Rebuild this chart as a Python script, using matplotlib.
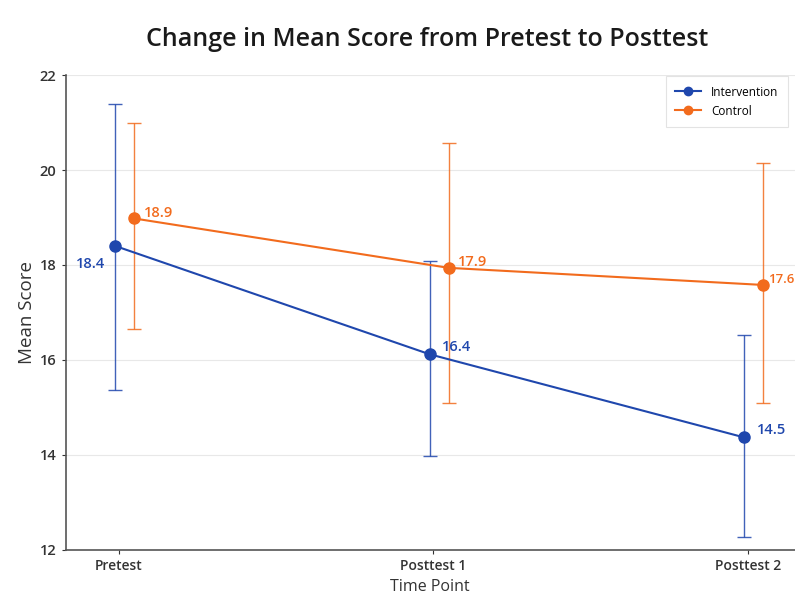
import matplotlib
matplotlib.use("Agg")
import matplotlib.pyplot as plt
import numpy as np

# chart data
time_points = ["Pretest", "Posttest 1", "Posttest 2"]
intervention_mean = [18.40, 16.12, 14.37]
intervention_low = [15.37, 13.98, 12.28]
intervention_high = [21.40, 18.09, 16.53]
intervention_labels = ["18.4", "16.4", "14.5"]
control_mean = [18.98, 17.94, 17.58]
control_low = [16.65, 15.09, 15.10]
control_high = [21.00, 20.57, 20.15]
control_labels = ["18.9", "17.9", "17.6"]

BLUE = "#1f47ad"
ORANGE = "#f26b1d"

plt.rcParams["font.family"] = ["Open Sans", "DejaVu Sans"]

fig = plt.figure(figsize=(7.95, 6.05), dpi=100)
ax = fig.add_axes([0.0825, 0.091, 0.9175, 0.785])

x = np.arange(len(time_points))
xi = x - 0.012
xc = x + 0.048


def draw_series(xs, mean, low, high, color, label):
    mean = np.asarray(mean)
    yerr = [mean - np.asarray(low), np.asarray(high) - mean]
    ax.errorbar(xs, mean, yerr=yerr, fmt="none", ecolor=color, elinewidth=1.0,
                capsize=5, capthick=1.0, alpha=0.85, zorder=2)
    ax.plot(xs, mean, color=color, lw=1.5, marker="o", ms=8, label=label, zorder=3)


draw_series(xi, intervention_mean, intervention_low, intervention_high, BLUE, "Intervention")
draw_series(xc, control_mean, control_low, control_high, ORANGE, "Control")

# value labels
for i, (xv, yv, txt) in enumerate(zip(xi, intervention_mean, intervention_labels)):
    if i == 0:
        ax.annotate(txt, (xv, yv), xytext=(-18, -13), textcoords="offset points",
                    ha="center", va="center", color=BLUE, fontsize=10.5, fontweight="semibold")
    else:
        ax.annotate(txt, (xv, yv), xytext=(9, 5), textcoords="offset points",
                    ha="left", va="center", color=BLUE, fontsize=10.5, fontweight="semibold")
for i, (xv, yv, txt) in enumerate(zip(xc, control_mean, control_labels)):
    last = i == len(control_labels) - 1
    ax.annotate(txt, (xv, yv), xytext=(4 if last else 7, 4), textcoords="offset points",
                ha="left", va="center", color=ORANGE,
                fontsize=9.5 if last else 10.5, fontweight="semibold")

ax.set_xlim(-0.17, 2.15)
ax.set_ylim(12, 22)
ax.set_yticks(np.arange(12, 23, 2))
ax.set_xticks(x)
ax.set_xticklabels(time_points, fontweight="semibold", fontsize=10)
for t in ax.get_yticklabels():
    t.set_fontweight("semibold")
    t.set_fontsize(10.5)
ax.tick_params(colors="#333333", length=3, width=0.8)

ax.grid(axis="y", color="#e8e8e8", lw=0.8)
ax.set_axisbelow(True)
for side in ("top", "right"):
    ax.spines[side].set_visible(False)
for side in ("left", "bottom"):
    ax.spines[side].set_color("#555555")
    ax.spines[side].set_linewidth(1.2)

ax.set_xlabel("Time Point", fontsize=11.5, color="#333333", labelpad=4)
ax.set_ylabel("Mean Score", fontsize=13.5, color="#333333", labelpad=3)
fig.suptitle("Change in Mean Score from Pretest to Posttest", fontsize=18,
             fontweight="semibold", x=0.537, y=0.955, color="#1a1a1a")

leg = ax.legend(loc="upper right", fontsize=8.5, frameon=True, fancybox=False,
                borderpad=0.8, handlelength=2.2, markerscale=0.75,
                bbox_to_anchor=(0.998, 1.01))
leg.get_frame().set_edgecolor("#dddddd")
leg.get_frame().set_linewidth(0.8)

fig.savefig("out.png", dpi=100)
